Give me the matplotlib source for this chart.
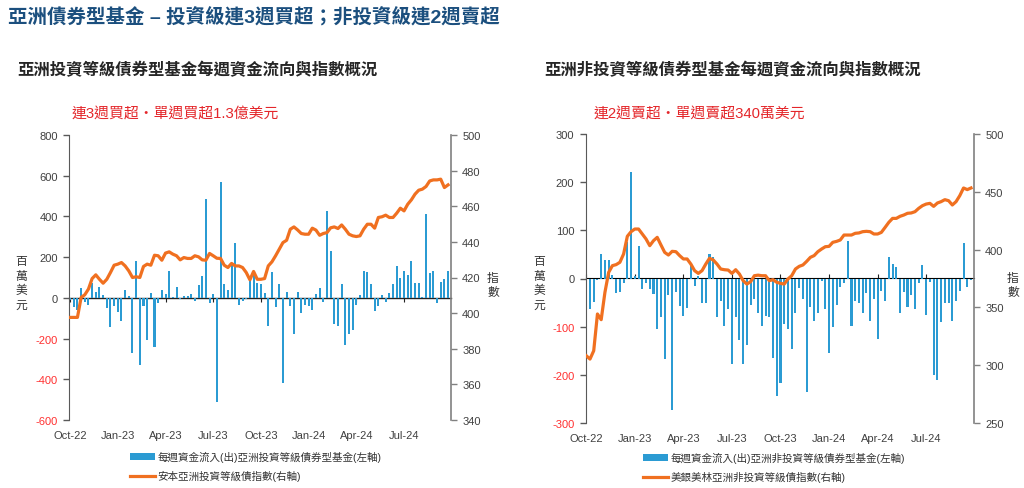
import numpy as np
import matplotlib.pyplot as plt

plt.rcParams['font.family'] = ['Liberation Sans', 'Noto Sans CJK TC', 'DejaVu Sans']

# quarter tick labels (one tick every 13 weeks)
quarter_labels = ['Oct-22', 'Jan-23', 'Apr-23', 'Jul-23', 'Oct-23', 'Jan-24', 'Apr-24', 'Jul-24']
quarter_pos = [0, 13, 26, 39, 52, 65, 78, 91]

# weekly flows, investment grade (US$ mn)
ig_flows = [-10, -43, -60, 48, -18, -35, 72, 28, 52, 15, -49, -144, -38, -70, -115, 39, 11, -270,
            179, -328, -41, -205, 25, -240, -26, 39, 21, 131, 3, 52, -8, 7, 7, 18, -13, 64, 108,
            487, -26, 20, -513, 569, 66, 38, 164, 269, -33, -16, -7, 100, 118, 74,
            69, 25, -139, 126, -44, 66, -418, 31, -41, -177, 30, -74, -34, -38, -61, 20, 49, -18,
            428, 228, -128, -136, 66, -231, -177, -157, -33, 13, 134, 125, 69, -67, -41, 13, -21,
            25, 66, 156, 100, 134, 110, 179, 75, 75, 5, 410, 121, 134, -26, 79, 92, 130]
# Aberdeen Asia IG bond index
ig_index = [397.6, 397.6, 397.6, 408.8, 410.3, 413.5, 419.4, 421.5, 419, 416.8, 419, 422.8, 426.9,
            427.5, 428.4, 426.5, 423.7, 420, 420.4, 420, 426.2, 427.5, 426.9, 432.5, 432.2, 429.7,
            433.7, 434.4, 433.1, 432.2, 429.9, 431.2, 430.7, 430.7, 432.2, 431.6, 429.9, 429.7,
            433.5, 432.2, 430.8, 430.7, 426.9, 425.6, 427.9, 426.5, 426.5, 425.6, 422.8, 418.7,
            423.4, 419,
            419, 419.4, 426.5, 428.8, 432.2, 435.9, 439.6, 440.9, 447.1, 448.4, 446.7, 444.7,
            444.3, 444.3, 447.7, 446.6, 443.7, 444.7, 445.2, 447.9, 448.4, 447.5, 449.5, 447.1,
            444.3, 443.4, 443, 443.4, 447.1, 449.9, 449.9, 447.7, 453.7, 454.1, 455, 453.7, 453.7,
            456.1, 458.9, 457.4, 461.1, 463.6, 466.8, 469, 469.6, 471.1, 474.2, 474.8, 474.8,
            475.2, 470.5, 472]

# weekly flows, high yield (US$ mn)
hy_flows = [-180, -63, -49, -4, 51, 39, 39, 8, -30, -27, -9, 75, 222, 5, 67, -22, -10, -21, -32,
            -104, -80, -167, -34, -272, -28, -57, -77, -61, 30, -15, 6, -50, -50, 51, 44, -79,
            -47, -99, -63, -178, -79, -127, -177, -138, -54, -42, -72, -99, -77, -79, -165, -243,
            -217, -94, -104, -147, -72, -20, -42, -236, -59, -89, -71, -6, -63, -154, -101, -56,
            -17, -9, 77, -98, -46, -50, -72, -30, -88, -42, -125, -26, -46, 44, 30, 24, -71, -28,
            -59, -35, -63, -9, 27, -75, -8, -200, -210, -91, -50, -50, -89, -46, -25, 74, -17, -3.4]
# BofA Merrill Lynch Asia HY index
hy_index = [308.2, 305.3, 312.5, 344.3, 339.4, 363, 380.3, 386.1, 387, 389, 396.2, 411.5, 415.5,
            417.8, 417.8, 413.5, 409.2, 403.4, 407.7, 410.6, 404, 397.6, 395.3, 398.5, 398.2,
            394.8, 391.9, 391.9, 387.5, 381.8, 379.4, 381.8, 387.5, 392.5, 391, 387.5, 383.2,
            382.6, 382.3, 379.4, 382.6, 378.9, 373.1, 370.2, 372.2, 377.4, 377.9, 377.4, 377.4,
            373.1, 374, 371.7,
            370.8, 370.2, 374.6, 377.4, 383.2, 385.5, 386.7, 389.8, 393.3, 394.8, 398.2, 400.5,
            402.5, 402.8, 406.3, 407.1, 408.3, 412.6, 412.6, 412.6, 414.1, 414.4, 415.5, 415.8,
            415.5, 413.5, 413.5, 414.9, 419.2, 423.6, 427, 427, 428.8, 429.9, 431.4, 431.7, 432.8,
            435.7, 438, 439.4, 440, 437.4, 440.3, 441.5, 443.2, 442.3, 438.6, 441.5, 446.7, 453.3,
            451.9, 453.3]

BLUE = '#2b9bd3'
ORANGE = '#f07020'
NEG_RED = '#ff3030'
TXT = '#404040'

fig = plt.figure(figsize=(10.24, 4.89), dpi=100)
W, H = 1024, 489


def px(x0, y0, x1, y1):
    return [x0 / W, 1 - y1 / H, (x1 - x0) / W, (y1 - y0) / H]


def panel(rect, flows, index, ylo, yhi, ystep, y2lo, y2hi, y2step, xlim, labels, leg_xy):
    ax = fig.add_axes(rect)
    x = np.arange(len(flows))
    bars = ax.bar(x, flows, width=0.55, color=BLUE, zorder=2)
    ax.set_xlim(*xlim)
    ax.set_ylim(ylo, yhi)
    yt = np.arange(ylo, yhi + 1, ystep)
    ax.set_yticks(yt)
    ax.set_yticklabels([str(v) for v in yt])
    for lab, v in zip(ax.get_yticklabels(), yt):
        lab.set_color(NEG_RED if v < 0 else TXT)
    ax.set_xticks(quarter_pos)
    ax.set_xticklabels(quarter_labels)
    ax.tick_params(axis='x', length=0, pad=7, labelsize=8, labelcolor=TXT)
    ax.tick_params(axis='y', length=4, width=1, color='#595959', labelsize=8, pad=4)
    for s in ['top', 'bottom', 'right']:
        ax.spines[s].set_visible(False)
    ax.spines['left'].set_color('#595959')

    # zero line with small quarter ticks
    zx = ax.secondary_xaxis(-ylo / (yhi - ylo))
    zx.set_xticks(quarter_pos)
    zx.set_xticklabels([])
    zx.tick_params(length=3, width=0.8, color='#222222')
    zx.spines['bottom'].set_color('#222222')
    zx.spines['bottom'].set_linewidth(1)

    ax2 = ax.twinx()
    line, = ax2.plot(x, index, color=ORANGE, lw=2.3, solid_joinstyle='round')
    ax2.set_ylim(y2lo, y2hi)
    ax2.set_yticks(np.arange(y2lo, y2hi + 1, y2step))
    ax2.tick_params(axis='y', length=4, width=1, color='#808080', labelsize=8,
                    labelcolor=TXT, pad=4)
    for s in ['top', 'bottom', 'left']:
        ax2.spines[s].set_visible(False)
    ax2.spines['right'].set_color('#808080')
    ax2.spines['right'].set_linewidth(1.2)

    fig.legend([bars, line], labels, loc='upper left',
               bbox_to_anchor=(leg_xy[0] / W, 1 - leg_xy[1] / H),
               frameon=False, fontsize=7.6, borderpad=0, handlelength=2.3,
               handleheight=0.7, handletextpad=0.25, labelspacing=0.75,
               labelcolor='#333333')
    return ax


panel(px(69, 136, 451, 421), ig_flows, ig_index, -600, 800, 200, 340, 500, 20,
      (-0.3, 103.8),
      ['每週資金流入(出)亞洲投資等級債券型基金(左軸)', '安本亞洲投資等級債指數(右軸)'],
      (125, 447))
panel(px(585.5, 135, 974, 424), hy_flows, hy_index, -300, 300, 100, 250, 500, 50,
      (-0.2, 103.8),
      ['每週資金流入(出)亞洲非投資等級債券型基金(左軸)', '美銀美林亞洲非投資等級債指數(右軸)'],
      (638, 448))

# titles and notes
fig.text(8 / W, 1 - 18 / H, '亞洲債券型基金 – 投資級連3週買超；非投資級連2週賣超',
         color='#1b4f7e', fontsize=14, fontweight='bold', va='center')
fig.text(17 / W, 1 - 70 / H, '亞洲投資等級債券型基金每週資金流向與指數概況',
         color='#262626', fontsize=11.8, fontweight='bold', va='center')
fig.text(544 / W, 1 - 70 / H, '亞洲非投資等級債券型基金每週資金流向與指數概況',
         color='#262626', fontsize=11.8, fontweight='bold', va='center')
fig.text(72 / W, 1 - 114 / H, '連3週買超・單週買超1.3億美元',
         color='#e4262a', fontsize=10.7, va='center')
fig.text(594 / W, 1 - 114 / H, '連2週賣超・單週賣超340萬美元',
         color='#e4262a', fontsize=10.7, va='center')

# axis labels (stacked characters)
for xp, yp, s in [(21, 284, '百\n萬\n美\n元'), (493, 286, '指\n數'),
                  (539, 284, '百\n萬\n美\n元'), (1013, 286, '指\n數')]:
    fig.text(xp / W, 1 - yp / H, s, ha='center', va='center', fontsize=8.5,
             linespacing=1.3, color='#333333')

fig.savefig('out.png', dpi=100)
